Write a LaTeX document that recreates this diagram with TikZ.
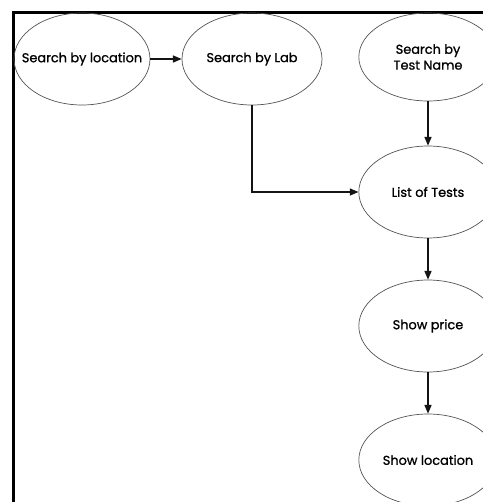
\documentclass[tikz,border=0pt]{standalone}
\usepackage{fontspec}
\setmainfont{Poppins}
\newfontfamily\labelfont{Poppins}[FakeBold=1]
\usepackage{xcolor}
\usepackage{tikz}
\usetikzlibrary{arrows.meta, shapes.geometric}
\definecolor{ink}{RGB}{20,20,20}
\definecolor{rim}{RGB}{85,85,85}

\begin{document}
\begin{tikzpicture}[st/.style={ellipse,draw=rim,line width=0.6pt,minimum width=4.15cm,minimum height=2.76cm,inner sep=0pt,align=center,font=\labelfont\fontsize{11}{13.5}\selectfont},
                    arr/.style={ink, line width=1.1pt, -{Triangle[length=2.6mm,width=2.1mm]}}]
  \useasboundingbox (0,0) rectangle (14.49,-15.06);
  \clip (0,0) rectangle (14.49,-15.06);
  \draw[black, line width=2.3pt] (0.41,-16) |- (16,-0.38);
  \node[st, minimum width=4.08cm, inner xsep=-0.75cm] (loc) at (2.46,-1.77) {Search by location};
  \node[st, minimum width=4.2cm] (lab) at (7.56,-1.77) {Search by Lab};
  \node[st, minimum height=2.64cm] (name) at (12.84,-1.71) {Search by\\Test Name};
  \node[st] (list) at (12.84,-5.76) {List of Tests};
  \node[st] (price) at (12.84,-9.78) {Show price};
  \node[st] (where) at (12.84,-13.8) {Show location};
  \draw[arr] (loc) -- (lab);
  \draw[arr] (name) -- (list);
  \draw[arr] (lab.south) |- (list.west);
  \draw[arr] (list) -- (price);
  \draw[arr] (price) -- (where);
\end{tikzpicture}
\end{document}
